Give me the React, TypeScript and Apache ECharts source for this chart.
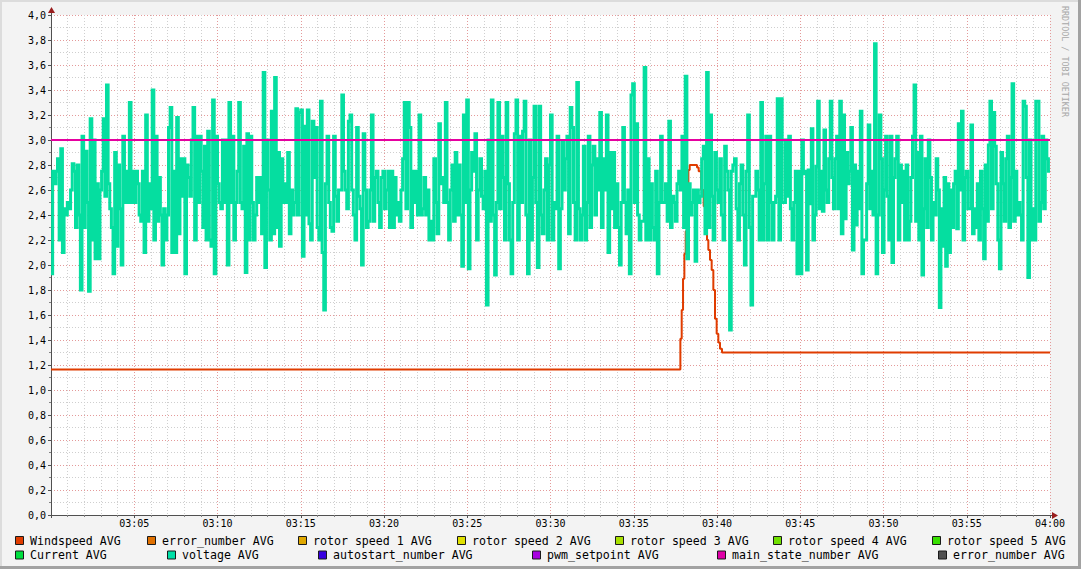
import React, { useEffect, useRef } from "react";
import * as echarts from "echarts";

// ---------- data ----------
const yTicks = [0, 0.2, 0.4, 0.6, 0.8, 1.0, 1.2, 1.4, 1.6, 1.8, 2.0, 2.2, 2.4, 2.6, 2.8, 3.0, 3.2, 3.4, 3.6, 3.8, 4.0];
const xTickLabels = ["", "03:05", "03:10", "03:15", "03:20", "03:25", "03:30", "03:35", "03:40", "03:45", "03:50", "03:55", "04:00"];

// voltage AVG, one array per quarter hour (03:00, 03:15, 03:30, 03:45)
const voltage0300 = [1.93, 2.75, 2.65, 2.75, 2.85, 2.2, 2.93, 2.1, 2.45, 2.4, 2.5, 2.45, 2.6, 2.81, 2.75, 2.3, 2.8, 2.4, 1.8, 3.03, 2.3, 2.91, 2.5, 1.79, 3.17, 2.2, 3.0, 2.05, 2.65, 2.05, 2.6, 2.75, 3.17, 2.55, 3.44, 2.65, 2.45, 2.3, 1.93, 2.9, 2.15, 2.8, 2.45, 2.0, 3.03, 2.5, 2.75, 2.5, 3.3, 2.5, 2.75, 2.5, 2.75, 2.65, 2.4, 2.35, 2.75, 2.1, 3.2, 2.35, 2.65, 2.45, 3.4, 2.2, 3.03, 2.35, 2.7, 2.4, 2.0, 2.45, 2.2, 2.4, 3.1, 3.26, 2.1, 2.75, 2.1, 3.18, 2.25, 2.85, 2.55, 2.85, 1.93, 2.8, 2.7, 2.55, 3.0, 3.26, 2.2, 3.03, 2.5, 3.03, 2.75, 2.3, 2.95, 2.2, 3.07, 2.2, 2.15, 3.32, 1.93, 3.03, 2.65, 2.5, 2.45, 3.0, 2.5, 3.0, 2.0, 3.3, 2.5, 3.03, 2.2, 2.5, 2.75, 3.3, 2.5, 2.45, 2.95, 1.94, 3.05, 2.2, 3.03, 2.5, 2.2, 2.4, 2.7, 2.5, 2.7, 2.25, 3.54, 1.98, 3.0, 2.6, 2.2, 3.23, 2.25, 3.5, 2.3, 2.9, 2.15, 2.85, 2.5, 2.65, 2.5, 2.9, 2.25, 2.6, 2.4, 2.5, 3.25, 2.4, 3.22];
const voltage0315 = [3.24, 2.07, 3.11, 2.4, 3.24, 2.33, 2.2, 3.15, 2.7, 3.1, 2.3, 2.2, 3.31, 2.1, 1.64, 2.65, 3.03, 2.5, 2.3, 2.27, 3.03, 2.55, 2.35, 2.6, 2.6, 3.36, 2.75, 2.6, 2.45, 3.15, 3.2, 2.6, 2.4, 2.2, 3.1, 2.55, 2.45, 2.0, 3.05, 2.6, 2.3, 2.35, 2.6, 3.2, 2.35, 2.7, 2.75, 2.5, 2.3, 2.7, 2.75, 2.45, 2.6, 2.75, 2.3, 2.75, 2.3, 2.7, 2.4, 2.5, 2.35, 2.6, 2.85, 3.3, 2.45, 3.3, 3.1, 2.3, 2.75, 2.5, 2.75, 2.4, 3.2, 2.4, 2.45, 2.7, 2.4, 2.6, 2.2, 2.35, 2.2, 2.85, 2.5, 2.25, 3.13, 2.65, 2.7, 2.5, 3.3, 2.5, 2.2, 2.6, 2.8, 2.35, 2.9, 2.4, 2.8, 2.4, 1.99, 3.2, 2.5, 3.32, 1.97, 2.6, 2.9, 2.75, 3.05, 2.2, 2.6, 2.85, 2.55, 2.45, 2.75, 1.68, 3.0, 2.35, 3.32, 2.4, 1.92, 2.5, 3.3, 2.45, 3.03, 2.7, 2.2, 3.3, 2.65, 2.2, 1.93, 2.5, 3.05, 3.32, 2.2, 3.03, 2.5, 3.07, 3.31, 2.4, 1.93, 3.0, 2.2, 2.7, 3.27, 2.5, 1.98, 3.27, 2.4, 2.25, 2.6, 2.85, 2.2, 2.8];
const voltage0330 = [3.2, 2.2, 2.5, 2.45, 3.03, 1.97, 2.45, 2.98, 2.6, 2.85, 3.03, 2.25, 3.26, 3.1, 2.5, 2.2, 3.46, 2.45, 2.2, 2.4, 2.95, 2.2, 2.5, 3.03, 2.3, 2.8, 2.95, 2.4, 2.85, 2.6, 3.22, 2.3, 2.85, 2.6, 3.2, 2.1, 2.9, 2.45, 2.9, 2.3, 2.65, 2.3, 2.0, 2.5, 3.1, 2.5, 2.25, 2.6, 1.93, 3.36, 3.45, 2.5, 3.13, 2.4, 2.2, 2.35, 2.35, 3.58, 2.2, 2.85, 2.2, 2.65, 2.3, 2.2, 2.75, 1.93, 2.5, 3.03, 2.5, 2.5, 2.65, 2.35, 3.15, 2.3, 2.55, 2.5, 2.35, 2.65, 2.75, 2.6, 3.03, 2.3, 3.51, 2.05, 2.65, 2.4, 2.5, 2.6, 2.03, 2.6, 2.5, 2.55, 2.85, 2.95, 2.25, 3.54, 2.3, 3.2, 2.55, 2.2, 2.9, 2.6, 2.5, 2.85, 2.4, 2.2, 2.95, 2.75, 2.6, 1.48, 2.75, 2.8, 2.85, 2.45, 2.2, 2.65, 2.8, 2.4, 2.0, 2.75, 3.2, 2.3, 1.68, 2.55, 2.55, 2.75, 2.6, 2.2, 3.3, 2.2, 2.65, 3.03, 2.2, 3.03, 2.5, 2.2, 2.5, 2.55, 3.33, 2.2, 3.33, 2.5, 2.5, 3.0, 2.55, 3.03, 2.45, 2.2, 2.5, 2.75, 1.93, 2.75];
const voltage0345 = [1.93, 3.0, 2.73, 2.75, 1.96, 2.76, 2.49, 3.09, 2.2, 2.4, 2.79, 3.31, 2.45, 2.75, 2.43, 3.08, 2.6, 2.5, 2.85, 3.31, 2.7, 2.45, 2.85, 3.03, 2.45, 3.31, 2.25, 3.2, 2.37, 2.9, 2.65, 2.75, 3.1, 2.12, 2.8, 2.32, 2.75, 2.45, 3.23, 1.93, 2.2, 2.2, 2.65, 3.12, 2.45, 2.75, 2.4, 3.77, 1.93, 2.4, 3.2, 2.85, 2.1, 2.6, 3.03, 2.55, 2.2, 3.03, 2.02, 2.7, 2.85, 3.03, 2.2, 2.8, 2.5, 2.75, 2.2, 2.8, 2.2, 2.35, 2.7, 3.03, 3.44, 2.35, 2.9, 2.2, 3.03, 1.92, 2.45, 2.85, 2.3, 3.0, 2.7, 2.2, 2.5, 2.4, 2.85, 2.6, 1.66, 2.45, 2.15, 2.7, 1.99, 2.65, 2.1, 2.6, 2.3, 2.65, 2.75, 2.29, 3.13, 2.6, 3.23, 2.2, 2.7, 2.75, 2.45, 2.45, 3.12, 2.25, 2.45, 2.3, 2.65, 2.2, 2.75, 2.45, 2.05, 2.8, 2.35, 2.96, 3.31, 2.45, 3.22, 2.95, 2.65, 2.2, 1.97, 2.9, 2.65, 2.35, 2.85, 3.03, 2.3, 2.7, 3.45, 2.35, 2.75, 2.4, 2.5, 2.4, 2.2, 3.31, 3.27, 2.7, 1.9, 3.0, 2.2, 2.45, 2.2, 3.31, 3.31, 2.35, 2.5, 3.03, 2.45, 3.0, 2.85, 2.75];
const quarterStartMinutes = [0, 15, 30, 45];

// Windspeed AVG (minutes after 03:00, value)
const windMinutes = [0, 37.8, 37.88, 37.96, 38.04, 38.12, 38.2, 38.28, 38.36, 38.8, 38.9, 39.05, 39.2, 39.3, 39.4, 39.48, 39.58, 39.68, 39.78, 39.88, 39.98, 40.08, 40.18, 40.3, 40.48, 60];
const windValues = [1.165, 1.41, 1.64, 1.89, 2.09, 2.27, 2.6, 2.76, 2.8, 2.78, 2.75, 2.6, 2.47, 2.35, 2.2, 2.12, 2.04, 1.96, 1.8, 1.57, 1.45, 1.38, 1.33, 1.3, 1.3, 1.3];

// main_state_number AVG
const mainStateMinutes = [0, 60];
const mainStateValues = [3.0, 3.0];

const legendNames = [
  "Windspeed AVG", "error_number AVG", "rotor speed 1 AVG", "rotor speed 2 AVG", "rotor speed 3 AVG", "rotor speed 4 AVG", "rotor speed 5 AVG",
  "Current AVG", "voltage AVG", "autostart_number AVG", "pwm_setpoint AVG", "main_state_number AVG", "error_number AVG",
];
const legendColors = [
  "#e03c00", "#e07000", "#e0a800", "#e0e000", "#a8e000", "#70e000", "#38e000",
  "#00e040", "#00e0a8", "#3800e0", "#a800e0", "#e000a8", "#505050",
];
// layout of legend entries (square left x, row)
const legendSlots: [number, number][] = [
  [15, 0], [147, 0], [298, 0], [457, 0], [615, 0], [773, 0], [932, 0],
  [15, 1], [167, 1], [318, 1], [532, 1], [717, 1], [938, 1],
];

const FONT = "'DejaVu Sans Mono', monospace";

export default function App() {
  const ref = useRef<HTMLDivElement>(null);

  useEffect(() => {
    if (!ref.current) return;
    const chart = echarts.init(ref.current, undefined, { renderer: "svg" });

    const voltageData: [number, number][] = [];
    [voltage0300, voltage0315, voltage0330, voltage0345].forEach((arr, q) => {
      arr.forEach((v, i) => voltageData.push([quarterStartMinutes[q] + (i * 15) / arr.length, v]));
    });
    voltageData.push([60, voltage0345[voltage0345.length - 1]]);
    const windData = windMinutes.map((m, i) => [m, windValues[i]]);
    const mainData = mainStateMinutes.map((m, i) => [m, mainStateValues[i]]);

    const majorGrid = { color: "#e49a9a", width: 1, type: [1, 2] as number[] };
    const minorGrid = { color: "#cfcfcf", width: 1, type: [1, 2] as number[] };

    const legendGraphics: any[] = [];
    legendNames.forEach((name, i) => {
      const [sx, row] = legendSlots[i];
      const cy = row === 0 ? 540.5 : 555;
      legendGraphics.push({
        type: "rect",
        shape: { x: sx + 0.5, y: cy - 4, width: 8, height: 8 },
        style: { fill: legendColors[i], stroke: "#1a1a1a", lineWidth: 1 },
        silent: true,
      });
      legendGraphics.push({
        type: "text",
        x: sx + 15,
        y: cy,
        style: { text: name, fill: "#000", font: `11.6px ${FONT}`, textVerticalAlign: "middle", textAlign: "left" },
        silent: true,
      });
    });

    chart.setOption({
      animation: false,
      backgroundColor: "#f3f3f3",
      grid: { left: 51, top: 15, width: 999, height: 500, show: true, backgroundColor: "#ffffff", borderWidth: 0 },
      xAxis: {
        type: "value",
        min: 0,
        max: 60,
        interval: 5,
        axisLine: { show: true, onZero: false, lineStyle: { color: "#505050", width: 1 } },
        axisTick: { show: true, length: 3, inside: false, lineStyle: { color: "#505050" } },
        minorTick: { show: true, splitNumber: 5, length: 2, lineStyle: { color: "#808080" } },
        splitLine: { show: true, lineStyle: majorGrid },
        minorSplitLine: { show: true, lineStyle: minorGrid },
        axisLabel: {
          show: true,
          margin: 3,
          color: "#000",
          fontFamily: FONT,
          fontSize: 10,
          formatter: (v: number) => xTickLabels[Math.round(v / 5)] ?? "",
        },
      },
      yAxis: {
        type: "value",
        min: 0,
        max: 4,
        interval: 0.2,
        axisLine: { show: true, lineStyle: { color: "#505050", width: 1 } },
        axisTick: { show: true, length: 3, lineStyle: { color: "#505050" } },
        minorTick: { show: true, splitNumber: 2, length: 2, lineStyle: { color: "#808080" } },
        splitLine: { show: true, lineStyle: majorGrid },
        minorSplitLine: { show: true, lineStyle: minorGrid },
        axisLabel: {
          show: true,
          margin: 5,
          color: "#000",
          fontFamily: FONT,
          fontSize: 10,
          formatter: (v: number) => {
            const t = yTicks.find((k) => Math.abs(k - v) < 1e-6);
            return (t ?? v).toFixed(1).replace(".", ",");
          },
        },
      },
      series: [
        {
          name: "Windspeed AVG",
          type: "line",
          step: "end",
          data: windData,
          showSymbol: false,
          lineStyle: { color: legendColors[0], width: 2 },
          itemStyle: { color: legendColors[0] },
        },
        {
          name: "voltage AVG",
          type: "line",
          step: "end",
          data: voltageData,
          showSymbol: false,
          lineStyle: { color: "#05dea0", width: 3, join: "miter" },
          itemStyle: { color: "#05dea0" },
        },
        {
          name: "main_state_number AVG",
          type: "line",
          data: mainData,
          showSymbol: false,
          lineStyle: { color: "#e600a0", width: 2 },
          itemStyle: { color: "#e600a0" },
        },
      ],
      graphic: [
        // frame
        { type: "rect", shape: { x: 0, y: 0, width: 1081, height: 2 }, style: { fill: "#dcdcdc" }, silent: true },
        { type: "rect", shape: { x: 0, y: 0, width: 2, height: 569 }, style: { fill: "#dcdcdc" }, silent: true },
        { type: "rect", shape: { x: 0, y: 566, width: 1081, height: 3 }, style: { fill: "#a2a2a2" }, silent: true },
        { type: "rect", shape: { x: 1078, y: 0, width: 3, height: 569 }, style: { fill: "#a2a2a2" }, silent: true },
        // axis extensions and arrows
        { type: "line", shape: { x1: 51.5, y1: 15, x2: 51.5, y2: 11 }, style: { stroke: "#505050", lineWidth: 1 }, silent: true },
        { type: "polygon", shape: { points: [[48, 13], [55, 13], [51.5, 7]] }, style: { fill: "#9a1e1e" }, silent: true },
        { type: "line", shape: { x1: 1050, y1: 515.5, x2: 1054, y2: 515.5 }, style: { stroke: "#505050", lineWidth: 1 }, silent: true },
        { type: "polygon", shape: { points: [[1052, 512], [1052, 519], [1058, 515.5]] }, style: { fill: "#9a1e1e" }, silent: true },
        // watermark
        {
          type: "text",
          x: 1069,
          y: 6,
          rotation: -Math.PI / 2,
          style: { text: "RRDTOOL / TOBI OETIKER", fill: "#a8a8a8", font: `8.4px ${FONT}`, textAlign: "left", textVerticalAlign: "top" },
          silent: true,
        },
        ...legendGraphics,
      ],
    });

    return () => chart.dispose();
  }, []);

  return (
    <div
      ref={ref}
      style={{ position: "absolute", left: 0, top: 0, width: 1081, height: 569 }}
    />
  );
}
